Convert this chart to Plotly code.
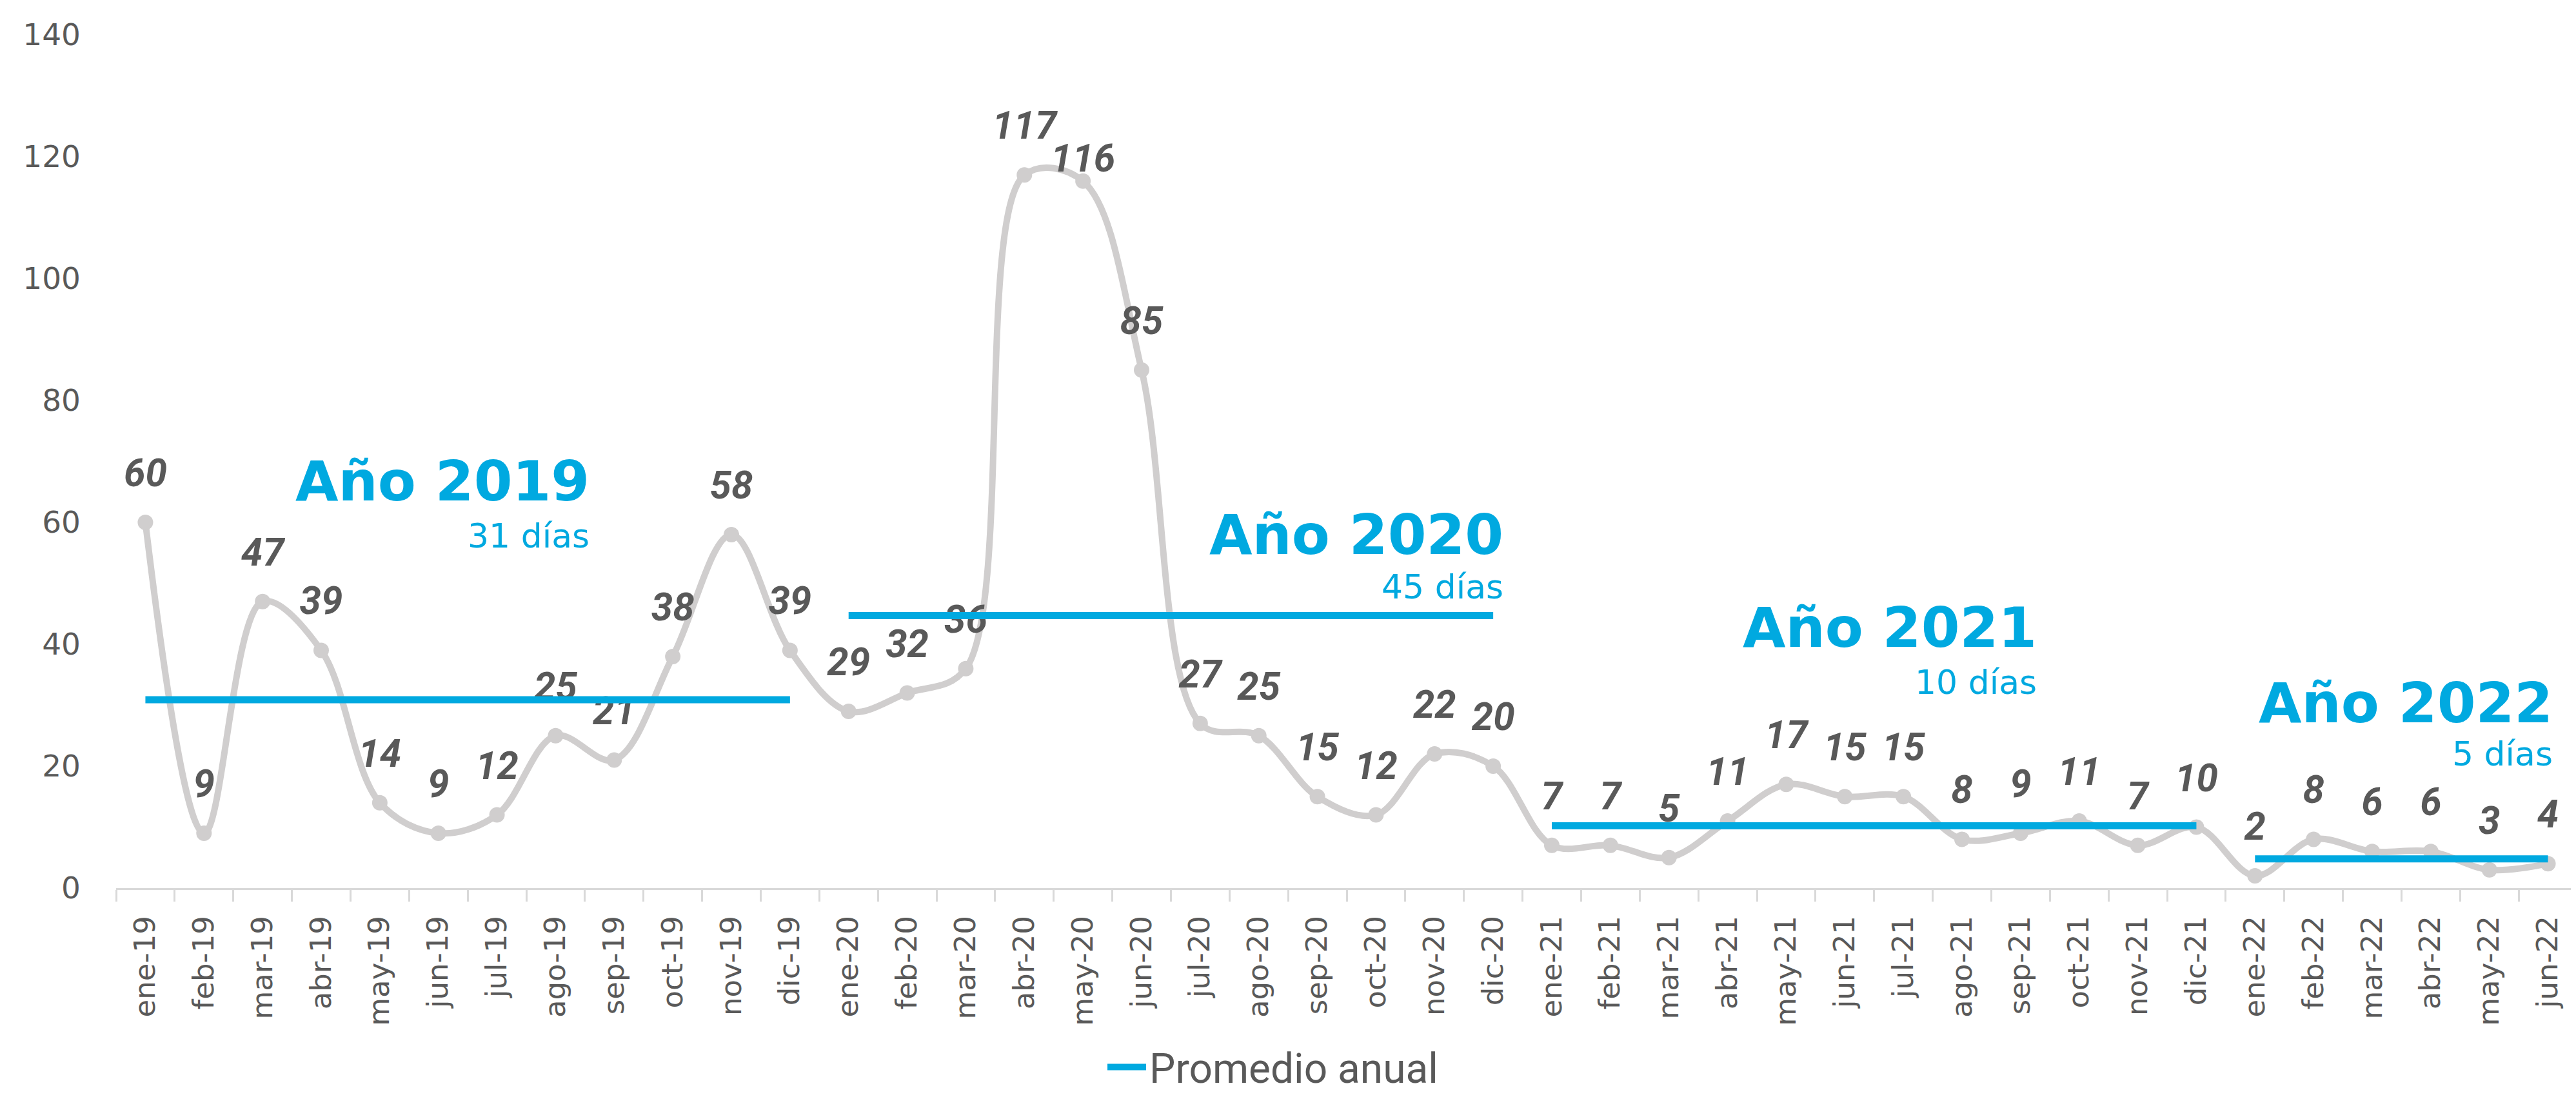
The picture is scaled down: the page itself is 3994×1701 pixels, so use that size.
import plotly.graph_objects as go

MONTHS = [
    "ene-19", "feb-19", "mar-19", "abr-19", "may-19", "jun-19",
    "jul-19", "ago-19", "sep-19", "oct-19", "nov-19", "dic-19",
    "ene-20", "feb-20", "mar-20", "abr-20", "may-20", "jun-20",
    "jul-20", "ago-20", "sep-20", "oct-20", "nov-20", "dic-20",
    "ene-21", "feb-21", "mar-21", "abr-21", "may-21", "jun-21",
    "jul-21", "ago-21", "sep-21", "oct-21", "nov-21", "dic-21",
    "ene-22", "feb-22", "mar-22", "abr-22", "may-22", "jun-22",
]
DAYS = [
    60, 9, 47, 39, 14, 9, 12, 25, 21, 38, 58, 39,
    29, 32, 36, 117, 116, 85, 27, 25, 15, 12, 22, 20,
    7, 7, 5, 11, 17, 15, 15, 8, 9, 11, 7, 10,
    2, 8, 6, 6, 3, 4,
]
YEARS = ["19", "20", "21", "22"]
YEAR_TITLES = ["Año 2019", "Año 2020", "Año 2021", "Año 2022"]
YEAR_AVG = [30.9, 44.7, 10.2, 4.8]
YEAR_AVG_TEXT = ["31 días", "45 días", "10 días", "5 días"]

GREY = "#D0CECE"
BLUE = "#00A9E0"
TEXT = "#595959"

fig = go.Figure()

fig.add_trace(
    go.Scatter(
        x=MONTHS,
        y=DAYS,
        mode="lines+markers",
        line={"color": GREY, "width": 10, "shape": "spline", "smoothing": 1.0},
        marker={"color": GREY, "size": 24},
        showlegend=False,
        hoverinfo="skip",
    )
)

# data labels sit above an invisible marker; may-20 label is tucked lower
label_pad = [64] * len(MONTHS)
label_pad[MONTHS.index("may-20")] = 0
fig.add_trace(
    go.Scatter(
        x=MONTHS,
        y=DAYS,
        mode="markers+text",
        text=[str(v) for v in DAYS],
        textposition="top center",
        textfont={"family": "Roboto", "size": 60, "color": TEXT, "weight": "bold", "style": "italic"},
        marker={"size": label_pad, "opacity": 0},
        showlegend=False,
        cliponaxis=False,
    )
)

for i, (yr, avg) in enumerate(zip(YEARS, YEAR_AVG)):
    xs = [m for m in MONTHS if m.endswith(yr)]
    fig.add_trace(
        go.Scatter(
            x=[xs[0], xs[-1]],
            y=[avg, avg],
            mode="lines",
            line={"color": BLUE, "width": 11},
            name="Promedio anual",
            legendgroup="avg",
            showlegend=(i == 0),
        )
    )

# year titles: right edge (category index) and vertical centres
title_pos = [(7.6, 66.8, 57.8), (23.2, 58.0, 49.4), (32.3, 42.8, 33.8), (41.1, 30.4, 22.0)]
for (xr, yt, yd), title, sub in zip(title_pos, YEAR_TITLES, YEAR_AVG_TEXT):
    fig.add_annotation(
        x=xr, y=yt, xref="x", yref="y", text=title, showarrow=False,
        xanchor="right", yanchor="middle",
        font={"family": "DejaVu Sans", "size": 86, "color": BLUE, "weight": "bold"},
    )
    fig.add_annotation(
        x=xr, y=yd, xref="x", yref="y", text=sub, showarrow=False,
        xanchor="right", yanchor="middle",
        font={"family": "DejaVu Sans", "size": 52, "color": BLUE},
    )

fig.update_xaxes(
    type="category",
    range=[-0.5, len(MONTHS) - 0.5],
    tickangle=-90,
    tickfont={"family": "DejaVu Sans", "size": 45, "color": TEXT},
    showline=True,
    linecolor="#D9D9D9",
    linewidth=3,
    ticks="outside",
    tickson="boundaries",
    ticklen=18,
    tickwidth=3,
    tickcolor="#D9D9D9",
    ticklabelstandoff=22,
    showgrid=False,
    automargin=False,
)
fig.update_yaxes(
    range=[0, 140],
    dtick=20,
    showgrid=False,
    zeroline=False,
    showline=False,
    tickfont={"family": "DejaVu Sans", "size": 47, "color": TEXT},
    ticklabelstandoff=54,
    automargin=False,
)
fig.update_layout(
    width=3994,
    height=1701,
    plot_bgcolor="white",
    paper_bgcolor="white",
    margin={"l": 172, "r": 6, "t": 46, "b": 310},
    legend={
        "orientation": "h",
        "x": 0.47,
        "xanchor": "center",
        "y": -0.21,
        "yanchor": "middle",
        "font": {"family": "Roboto", "size": 64, "color": TEXT},
        "itemwidth": 60,
    },
)

fig.write_html("out.html")
